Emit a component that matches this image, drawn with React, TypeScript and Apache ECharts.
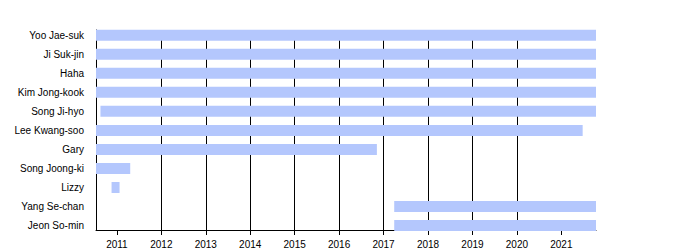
import React, { useEffect, useRef } from "react";
import * as echarts from "echarts";

// Cast members (top to bottom)
const members = [
  "Yoo Jae-suk",
  "Ji Suk-jin",
  "Haha",
  "Kim Jong-kook",
  "Song Ji-hyo",
  "Lee Kwang-soo",
  "Gary",
  "Song Joong-ki",
  "Lizzy",
  "Yang Se-chan",
  "Jeon So-min",
];

// Membership start / end as decimal years
const startYears = [2010.53, 2010.53, 2010.53, 2010.53, 2010.63, 2010.53, 2010.53, 2010.53, 2010.88, 2017.24, 2017.24];
const endYears = [2021.78, 2021.78, 2021.78, 2021.78, 2021.78, 2021.48, 2016.85, 2011.3, 2011.06, 2021.78, 2021.78];

// Year tick labels
const years = [2011, 2012, 2013, 2014, 2015, 2016, 2017, 2018, 2019, 2020, 2021];

const axisMin = 2010.53;
const axisMax = 2021.78;

export default function App() {
  const ref = useRef<HTMLDivElement>(null);

  useEffect(() => {
    if (!ref.current) return;
    const chart = echarts.init(ref.current, null, { renderer: "svg" });
    const font = "'Liberation Sans', Arial, sans-serif";
    const data = members.map((m, i) => [i, startYears[i], endYears[i]]);

    chart.setOption({
      animation: false,
      backgroundColor: "#ffffff",
      grid: [
        { left: 96, right: 104, top: 25.7, height: 209.4, containLabel: false },
        { left: 96, right: 104, top: 30, height: 200, containLabel: false },
      ],
      xAxis: [
        {
          type: "value",
          gridIndex: 0,
          min: axisMin,
          max: axisMax,
          show: false,
        },
        {
          type: "value",
          gridIndex: 1,
          min: axisMin,
          max: axisMax,
          axisLine: { show: true, onZero: false, lineStyle: { color: "#000", width: 1 } },
          axisTick: {
            show: true,
            length: 5,
            inside: false,
            customValues: years,
            lineStyle: { color: "#000", width: 1 },
          },
          axisLabel: {
            show: true,
            customValues: years,
            margin: 9,
            fontSize: 10,
            fontFamily: font,
            color: "#000",
            formatter: (v: number) => String(Math.round(v)),
          },
          splitLine: {
            show: true,
            showMinLine: false,
            showMaxLine: false,
            lineStyle: { color: "#000", width: 1, type: "solid" },
          },
        },
      ],
      yAxis: [
        {
          type: "category",
          gridIndex: 0,
          data: members,
          inverse: true,
          axisLine: { show: false },
          axisTick: { show: false },
          splitLine: { show: false },
          axisLabel: {
            margin: 12,
            fontSize: 10,
            fontFamily: font,
            color: "#000",
          },
        },
        {
          type: "value",
          gridIndex: 1,
          min: 0,
          max: 1,
          axisLine: { show: true, onZero: false, lineStyle: { color: "#000", width: 1 } },
          axisTick: { show: false },
          axisLabel: { show: false },
          splitLine: { show: false },
        },
      ],
      series: [
        {
          type: "custom",
          xAxisIndex: 0,
          yAxisIndex: 0,
          z: 5,
          data,
          encode: { x: [1, 2], y: 0 },
          renderItem: (params: any, api: any) => {
            const cat = api.value(0);
            const s = api.coord([api.value(1), cat]);
            const e = api.coord([api.value(2), cat]);
            const h = api.size([0, 1])[1] * 0.578;
            return {
              type: "rect",
              shape: { x: s[0], y: s[1] - h / 2, width: e[0] - s[0], height: h },
              style: { fill: "#b4c7fd" },
            };
          },
        },
      ],
    });

    return () => chart.dispose();
  }, []);

  return (
    <div
      ref={ref}
      style={{ position: "absolute", left: 0, top: 0, width: 700, height: 250 }}
    />
  );
}
